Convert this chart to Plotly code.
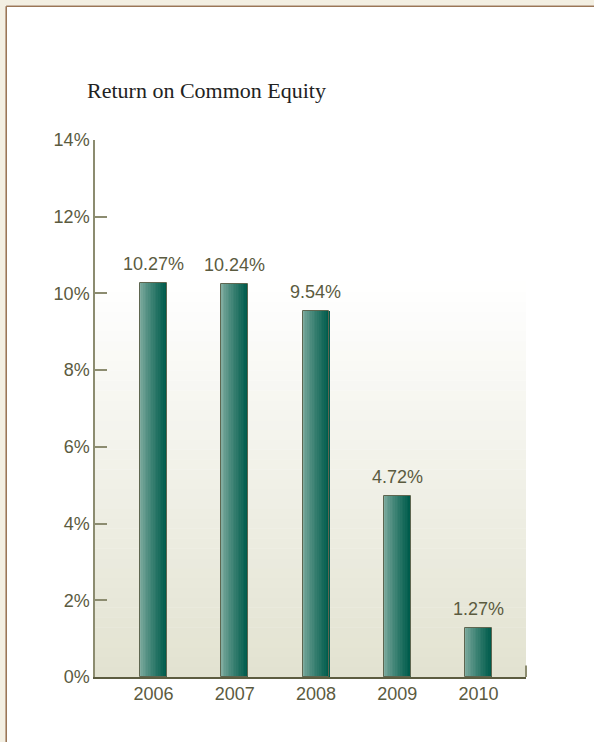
import plotly.graph_objects as go

years = ["2006", "2007", "2008", "2009", "2010"]
roe = [10.27, 10.24, 9.54, 4.72, 1.27]
labels = ["10.27%", "10.24%", "9.54%", "4.72%", "1.27%"]
title_text = "Return on Common Equity"

W, H = 594, 742
ML, MR, MT, MB = 95, 68, 140, 65
PW, PH = W - ML - MR, H - MT - MB


def px_x(p):
    return (p - ML) / PW


def px_y(p):
    return (H - MB - p) / PH


def lerp(c1, c2, t):
    return "rgb(%d,%d,%d)" % tuple(round(a + (b - a) * t) for a, b in zip(c1, c2))


xs = list(range(len(years)))
fig = go.Figure()

# bar bodies: horizontal gradient built from thin overlaid slices
bar_w = 0.33
n_slices = 16
light = (128, 172, 160)
dark = (0, 92, 76)
for k in range(n_slices):
    t = (k / (n_slices - 1)) ** 0.8
    fig.add_trace(go.Bar(
        x=xs, y=roe, width=bar_w / n_slices + 0.002,
        offset=-bar_w / 2 + k * bar_w / n_slices,
        marker=dict(color=lerp(light, dark, t), line=dict(width=0)),
        hoverinfo="skip", showlegend=False,
    ))
# outline
fig.add_trace(go.Bar(
    x=xs, y=roe, width=bar_w, offset=-bar_w / 2,
    marker=dict(color="rgba(0,0,0,0)", line=dict(color="#5E6650", width=1)),
    showlegend=False,
))

shapes = []
# background vertical gradient in plot area
g_top = 10.3
n_strips = 40
bottom_c = (226, 226, 208)
top_c = (255, 255, 255)
for i in range(n_strips):
    y0 = g_top * i / n_strips
    y1 = g_top * (i + 1) / n_strips + 0.01
    t = (i + 0.5) / n_strips
    shapes.append(dict(type="rect", xref="x domain", yref="y", x0=0, x1=1,
                       y0=y0, y1=y1, fillcolor=lerp(bottom_c, top_c, t),
                       line=dict(width=0), layer="below"))
# right end tick of x axis
shapes.append(dict(type="line", xref="x domain", yref="y", x0=1, x1=1,
                   y0=0, y1=0.3, line=dict(color="#8C8C70", width=2)))
# frame
tan = "#F3EFE2"
shapes.append(dict(type="rect", xref="paper", yref="paper", x0=px_x(0), x1=px_x(5.5),
                   y0=px_y(H), y1=px_y(0), fillcolor=tan, line=dict(width=0)))
shapes.append(dict(type="rect", xref="paper", yref="paper", x0=px_x(0), x1=px_x(W),
                   y0=px_y(5.5), y1=px_y(0), fillcolor=tan, line=dict(width=0)))
shapes.append(dict(type="line", xref="paper", yref="paper", x0=px_x(6.2), x1=px_x(6.2),
                   y0=px_y(H), y1=px_y(6.2), line=dict(color="#9A7656", width=1.6)))
shapes.append(dict(type="line", xref="paper", yref="paper", x0=px_x(6.2), x1=px_x(W),
                   y0=px_y(6.2), y1=px_y(6.2), line=dict(color="#9A7656", width=1.6)))

annotations = []
for x, v, lab in zip(xs, roe, labels):
    annotations.append(dict(x=x, y=v, text=lab, showarrow=False, xanchor="center",
                            yanchor="bottom", yshift=7,
                            font=dict(family="Liberation Sans, Arial", size=18, color="#5B5B3F")))
annotations.append(dict(xref="paper", yref="paper", x=px_x(85), y=px_y(91), text=title_text,
                        showarrow=False, xanchor="left", yanchor="middle",
                        font=dict(family="Liberation Serif, Times New Roman", size=22, color="#222222")))

fig.update_layout(
    width=W, height=H,
    margin=dict(l=ML, r=MR, t=MT, b=MB, pad=0),
    paper_bgcolor="white", plot_bgcolor="white",
    barmode="overlay", bargap=0,
    shapes=shapes, annotations=annotations,
    showlegend=False,
    font=dict(family="Liberation Sans, Arial", size=18, color="#5B5B3F"),
)
fig.update_xaxes(range=[-0.72, 4.585], tickvals=xs, ticktext=years, showgrid=False,
                 zeroline=False, showline=True, linecolor="#5C5C40", linewidth=1.5,
                 ticks="", tickfont=dict(size=18, color="#5B5B3F"), fixedrange=True)
fig.update_yaxes(range=[0, 14], dtick=2, ticksuffix="%", showgrid=False, zeroline=False,
                 showline=True, linecolor="#8C8C70", linewidth=1.5,
                 ticks="inside", ticklen=12, tickwidth=1.5, tickcolor="#8C8C70",
                 tickfont=dict(size=18, color="#5B5B3F"), fixedrange=True)

fig.write_html("out.html")
